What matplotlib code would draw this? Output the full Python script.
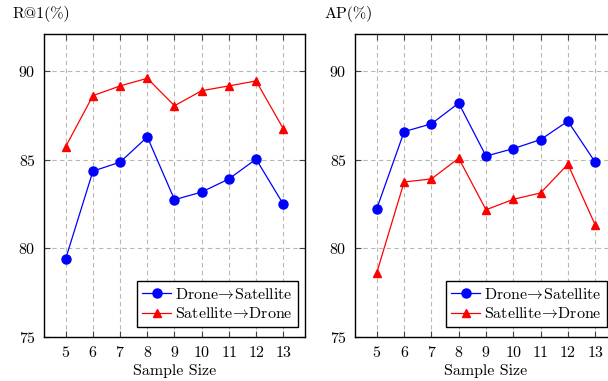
import matplotlib
matplotlib.use("Agg")
import matplotlib.pyplot as plt

# Data
sample_sizes = [5, 6, 7, 8, 9, 10, 11, 12, 13]

r1_drone_to_sat = [79.43, 84.36, 84.87, 86.29, 82.75, 83.18, 83.92, 85.04, 82.50]
r1_sat_to_drone = [85.75, 88.62, 89.17, 89.60, 88.05, 88.90, 89.17, 89.45, 86.76]

ap_drone_to_sat = [82.25, 86.59, 87.03, 88.20, 85.21, 85.63, 86.14, 87.18, 84.87]
ap_sat_to_drone = [78.64, 83.75, 83.92, 85.09, 82.18, 82.77, 83.13, 84.75, 81.33]

y_ticks = [75, 80, 85, 90]
label_ds = "Drone$\\!\\rightarrow\\!$Satellite"
label_sd = "Satellite$\\!\\rightarrow\\!$Drone"

plt.rcParams["font.family"] = ["cmr10", "DejaVu Serif"]
plt.rcParams["mathtext.fontset"] = "cm"
plt.rcParams["axes.formatter.use_mathtext"] = True
plt.rcParams["font.size"] = 11.5

W, H = 608, 381
fig = plt.figure(figsize=(W / 100, H / 100), dpi=100)


def px_axes(left, top, right, bottom):
    return fig.add_axes([left / W, 1 - bottom / H, (right - left) / W, (bottom - top) / H])


def draw_panel(ax, blue, red, ylabel_text, ylabel_x, legend_right):
    ax.plot(sample_sizes, blue, "-o", color="blue", lw=0.9, ms=6.5, label=label_ds)
    ax.plot(sample_sizes, red, "-^", color="red", lw=0.9, ms=6, label=label_sd)
    ax.set_xlim(4.2, 13.8)
    ax.set_ylim(75, 92.1)
    ax.set_xticks(sample_sizes)
    ax.set_yticks(y_ticks)
    ax.grid(True, color="#b8b8b8", linestyle=(0, (4, 3)), linewidth=0.8)
    ax.set_axisbelow(True)
    ax.tick_params(direction="in", top=True, right=True, length=4,
                   width=0.8, color="#444444", labelsize=11.5, pad=6)
    for s in ax.spines.values():
        s.set_linewidth(1.0)
    ax.set_xlabel("Sample Size", fontsize=11.5, labelpad=3)
    fig.text(ylabel_x / W, 1 - 14 / H, ylabel_text, ha="left", va="center", fontsize=11.5)
    ax.legend(loc="lower right", bbox_to_anchor=(legend_right / W, 1 - 327 / H),
              bbox_transform=fig.transFigure, borderaxespad=0, fancybox=False,
              edgecolor="black", framealpha=1, fontsize=11.5, handlelength=1.8,
              labelspacing=0.3, borderpad=0.35, handletextpad=0.25)


ax1 = px_axes(44, 34, 305, 337)
draw_panel(ax1, r1_drone_to_sat, r1_sat_to_drone, "R@1(%)", 13, 298)

ax2 = px_axes(355, 34, 617, 337)
draw_panel(ax2, ap_drone_to_sat, ap_sat_to_drone, "AP(%)", 324, 607)

fig.savefig("out.png", dpi=100)
